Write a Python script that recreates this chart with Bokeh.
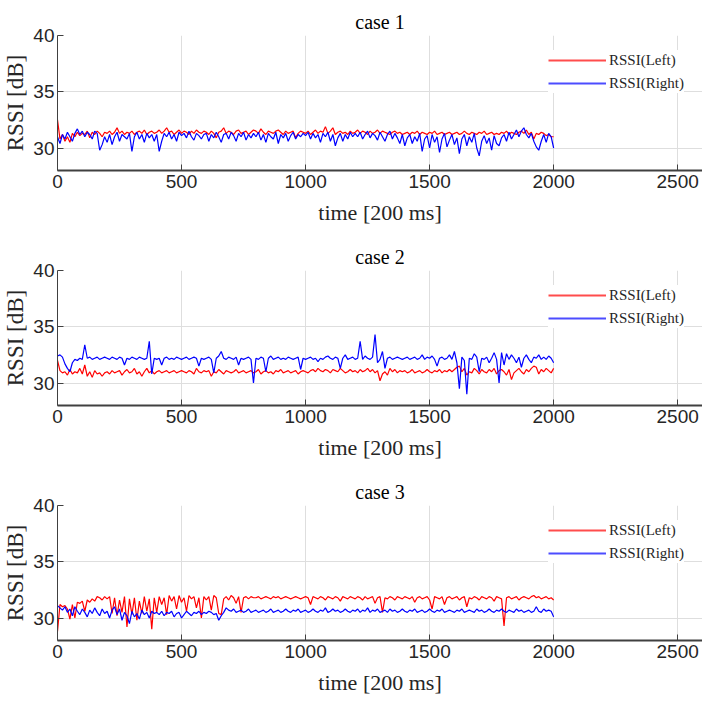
import numpy as np
from bokeh.plotting import figure
from bokeh.layouts import column
from bokeh.models import FixedTicker
from bokeh.embed import file_html
from bokeh.resources import INLINE

# sampled every 10 time steps (t = 0 .. 2000)
STEP = 10

case1_left = [
    32.5, 30.8, 31.2, 30.6, 31.0, 30.5, 31.3, 31.0, 31.4, 31.1, 31.3, 31.2, 31.5, 30.9, 31.4, 31.2, 31.5, 31.3, 31.0, 31.4,
    31.3, 31.5, 31.2, 31.4, 31.8, 31.3, 31.5, 31.2, 31.4, 31.3, 31.5, 31.2, 31.4, 31.5, 31.3, 31.6, 31.2, 31.4, 31.5, 31.3,
    31.4, 31.6, 31.3, 31.5, 31.8, 31.4, 31.5, 31.2, 31.4, 31.6, 31.3, 31.5, 31.4, 31.2, 31.5, 31.3, 31.6, 31.4, 31.3, 31.5,
    31.4, 31.2, 31.5, 31.3, 30.9, 31.4, 31.5, 31.8, 31.3, 31.5, 31.4, 31.2, 31.5, 31.6, 31.3, 31.4, 31.5, 31.2, 31.4, 31.6,
    31.5, 31.3, 31.7, 31.4, 31.2, 31.5, 31.4, 31.3, 31.5, 31.6, 31.4, 31.2, 31.5, 31.3, 31.4, 31.5, 30.9, 31.3, 31.5, 31.4,
    31.3, 31.5, 31.2, 31.4, 31.6, 31.3, 31.5, 31.4, 31.9, 31.3, 31.5, 31.8, 31.2, 31.4, 31.5, 31.3, 31.4, 31.2, 31.5, 31.3,
    31.4, 31.6, 31.3, 31.5, 31.4, 31.2, 31.5, 31.3, 31.4, 31.6, 31.3, 31.5, 31.4, 31.3, 31.2, 31.4, 31.5, 31.3, 31.4, 31.2,
    31.3, 31.4, 31.2, 31.4, 31.3, 31.5, 31.2, 31.4, 31.3, 31.2, 31.4, 31.3, 31.5, 31.2, 31.3, 31.4, 31.2, 31.3, 31.4, 31.2,
    31.3, 31.4, 31.2, 31.3, 31.5, 31.3, 31.2, 31.4, 31.3, 31.2, 31.4, 31.3, 31.5, 31.2, 31.3, 31.4, 31.2, 31.3, 31.2, 31.4,
    31.3, 31.5, 31.2, 31.4, 31.3, 31.2, 31.4, 31.5, 31.3, 31.6, 31.2, 31.4, 30.8, 31.3, 31.2, 31.4, 31.3, 31.1, 31.2, 31.0,
    31.0,
]
case1_right = [
    31.0, 30.4, 31.2, 30.8, 31.4, 31.0, 30.6, 31.3, 31.7, 31.2, 31.5, 31.0, 31.4, 31.2, 30.8, 31.5, 31.3, 29.8, 30.3, 31.0,
    30.5, 31.2, 30.3, 31.0, 31.4, 30.6, 31.2, 31.0, 30.8, 31.3, 29.7, 31.0, 31.4, 30.8, 31.2, 30.5, 31.3, 30.9, 31.2, 30.6,
    31.2, 29.7, 30.6, 31.3, 31.0, 31.4, 30.8, 31.2, 30.6, 31.4, 31.1, 31.3, 30.9, 31.5, 31.0, 30.7, 31.3, 31.1, 30.8, 31.2,
    31.3, 30.6, 31.2, 30.9, 31.4, 31.0, 30.5, 31.2, 31.3, 30.8, 31.4, 31.1, 30.6, 31.3, 31.0, 31.4, 30.7, 31.2, 30.9, 31.3,
    31.0, 31.4, 30.7, 31.2, 30.5, 31.3, 31.0, 30.8, 31.4, 30.4, 31.2, 30.9, 31.3, 30.6, 31.1, 31.4, 30.8, 31.2, 31.0, 31.3,
    31.1, 31.4, 30.8, 31.3, 30.9, 31.2, 30.5, 31.3, 31.0, 31.4, 30.6, 31.2, 30.2, 30.9, 31.3, 30.6, 31.2, 30.8, 31.4, 31.0,
    31.3, 31.0, 31.4, 30.8, 31.2, 31.5, 30.9, 31.3, 31.1, 30.7, 31.4, 31.0, 30.6, 31.2, 31.5, 30.8, 31.3, 30.9, 30.4, 31.2,
    30.2, 30.9, 31.2, 30.4, 31.0, 30.6, 31.3, 29.7, 30.8, 31.1, 30.0, 31.2, 30.5, 31.0, 29.6, 30.8, 31.3, 30.1, 30.7, 31.2,
    30.3, 30.9, 29.5, 30.8, 31.2, 30.2, 31.0, 30.5, 31.3, 30.0, 29.3, 30.6, 31.1, 30.4, 30.9, 29.8, 31.1, 30.4, 30.2, 30.9,
    31.2, 30.6, 31.4, 30.8, 31.2, 31.6, 31.0, 31.5, 31.8, 31.2, 30.9, 31.3, 30.6, 30.1, 29.8, 30.6, 31.2, 30.5, 31.3, 31.0,
    30.0,
]

case2_left = [
    32.0, 31.1, 30.9, 31.0, 30.7, 31.2, 30.8, 31.0, 30.9, 31.3, 30.8, 31.6, 30.6, 31.0, 30.5, 31.1, 30.8, 30.9, 30.6, 30.9,
    31.0, 30.8, 31.1, 30.9, 31.0, 31.1, 30.7, 31.0, 31.2, 30.9, 31.0, 31.3, 30.8, 31.0, 30.6, 31.0, 31.3, 30.9, 31.1, 30.8,
    31.0, 31.1, 30.9, 31.0, 31.1, 30.9, 31.0, 31.1, 30.9, 31.0, 31.1, 31.0, 30.9, 31.1, 31.0, 30.8, 31.3, 31.0, 30.9, 31.1,
    31.0, 31.1, 30.6, 31.0, 30.9, 31.2, 31.0, 30.8, 31.1, 31.0, 30.9, 31.0, 31.2, 30.9, 31.0, 31.1, 30.9, 31.0, 31.1, 30.9,
    31.0, 31.2, 30.8, 31.0, 31.1, 30.9, 31.0, 30.8, 31.1, 31.0, 31.2, 30.9, 31.0, 31.1, 30.9, 31.0, 31.1, 30.8, 31.0, 31.1,
    31.0, 30.9, 31.1, 31.2, 31.0, 31.3, 31.1, 31.0, 31.2, 31.1, 30.9, 31.2, 31.1, 31.0, 31.3, 31.1, 30.9, 31.0, 31.2, 31.0,
    31.1, 30.9, 31.2, 31.0, 31.1, 31.3, 31.0, 31.2, 30.9, 31.1, 30.2, 30.8, 31.0, 30.7, 31.3, 31.0, 31.2, 30.9, 31.1, 31.0,
    31.1, 30.9, 31.0, 31.2, 30.9, 31.0, 31.1, 30.9, 31.0, 31.2, 31.0, 30.9, 31.1, 31.0, 31.2, 30.9, 31.1, 31.0, 31.2, 31.0,
    31.2, 31.4, 31.5, 31.0, 31.3, 30.7, 31.0, 30.9, 31.3, 31.1, 30.8, 31.2, 31.0, 30.9, 31.2, 31.0, 31.3, 30.8, 31.1, 31.2,
    31.0, 30.7, 31.2, 30.3, 30.9, 31.1, 31.3, 31.0, 30.8, 31.2, 31.0, 31.3, 31.5, 31.4, 30.8, 31.2, 31.0, 31.3, 31.1, 30.9,
    31.3,
]
case2_right = [
    32.4, 32.5, 32.3, 31.7, 31.3, 31.0, 31.8, 32.1, 32.0, 32.2, 32.1, 33.4, 32.2, 32.3, 32.1, 32.2, 32.3, 32.1, 32.2, 32.3,
    32.2, 32.1, 32.3, 32.2, 32.1, 32.3, 32.2, 31.6, 32.2, 32.1, 32.3, 32.2, 32.1, 32.3, 32.2, 32.1, 32.2, 33.7, 30.8, 32.2,
    32.1, 32.2, 31.6, 32.2, 32.3, 32.1, 32.2, 32.1, 32.3, 32.2, 32.1, 32.2, 32.3, 32.1, 32.2, 32.3, 32.2, 31.5, 32.2, 32.1,
    32.2, 32.3, 32.1, 30.9, 32.2, 32.4, 32.8, 32.2, 32.1, 32.3, 32.2, 32.1, 32.3, 31.6, 32.2, 32.1, 32.2, 32.3, 32.1, 30.0,
    32.2, 32.1, 32.3, 32.2, 31.0, 32.2, 32.4, 32.1, 32.2, 32.3, 32.1, 32.2, 32.1, 32.3, 32.2, 32.1, 32.2, 32.3, 31.2, 32.2,
    32.1, 32.2, 32.3, 32.1, 32.2, 31.9, 32.2, 32.1, 32.3, 32.4, 32.2, 32.1, 32.3, 32.2, 31.3, 32.2, 32.5, 32.1, 32.2, 32.3,
    32.1, 32.2, 33.7, 32.1, 32.4, 32.2, 32.1, 32.3, 34.3, 31.8, 32.1, 32.8, 31.3, 32.2, 32.3, 32.1, 32.2, 32.3, 32.2, 32.1,
    32.2, 32.3, 32.1, 32.2, 32.3, 32.1, 32.2, 32.5, 32.1, 32.3, 32.2, 32.4, 32.1, 31.5, 32.2, 32.3, 32.1, 32.2, 32.5, 32.1,
    32.8, 31.8, 29.5, 32.3, 32.0, 29.0, 32.2, 32.1, 32.6, 32.3, 31.0, 32.2, 32.1, 32.3, 31.8, 32.2, 32.7, 32.1, 30.0, 32.7,
    31.6, 32.6, 32.1, 32.5, 32.2, 31.8, 32.3, 31.4, 32.2, 32.5, 32.1, 31.8, 32.3, 32.2, 32.5, 32.1, 32.3, 32.1, 32.4, 32.2,
    31.8,
]

case3_left = [
    28.8, 31.2, 31.0, 31.1, 30.8, 29.9, 31.2, 30.0, 31.4, 31.3, 31.5, 30.6, 31.6, 31.4, 31.7, 31.5, 31.9, 31.8, 31.6, 31.9,
    31.7, 31.9, 30.4, 31.8, 30.2, 31.6, 30.5, 31.9, 29.2, 31.7, 30.3, 31.8, 29.8, 31.5, 30.4, 31.9, 30.6, 31.7, 29.0, 31.8,
    30.5, 31.9, 31.2, 31.8, 30.3, 32.0, 31.5, 31.9, 30.8, 32.0, 31.4, 31.8, 30.6, 32.0, 31.7, 31.9, 30.9, 31.8, 30.0, 31.9,
    31.6, 31.9, 30.7, 32.0, 31.8, 30.4, 30.3, 31.7, 31.9, 31.6, 32.0, 31.8, 31.3, 31.9, 30.5, 31.8, 31.9, 31.7, 31.9, 31.8,
    31.8, 31.9, 31.7, 31.8, 31.9, 31.8, 31.7, 31.9, 31.8, 31.9, 31.7, 31.8, 31.9, 31.8, 31.7, 31.8, 31.9, 31.8, 31.7, 31.8,
    31.9, 31.8, 31.2, 31.9, 31.8, 31.7, 31.9, 31.8, 31.6, 31.9, 31.8, 31.7, 31.9, 31.8, 31.5, 31.9, 31.8, 31.7, 31.9, 31.8,
    31.7, 31.9, 31.8, 31.6, 31.9, 31.7, 31.8, 31.9, 31.3, 31.8, 31.9, 30.5, 31.8, 31.7, 31.9, 31.8, 31.6, 31.9, 31.8, 31.7,
    31.9, 31.8, 31.7, 31.9, 31.4, 31.8, 31.9, 31.7, 31.8, 31.9, 31.6, 30.8, 31.9, 31.8, 31.7, 31.9, 31.2, 31.8, 31.9, 31.7,
    31.8, 31.9, 31.6, 31.8, 31.9, 31.0, 31.8, 31.7, 31.9, 31.8, 31.6, 31.9, 31.8, 31.7, 31.9, 31.8, 31.5, 31.9, 31.8, 31.7,
    29.3, 31.8, 31.9, 31.7, 31.8, 31.9, 31.6, 31.8, 31.9, 31.8, 31.7, 31.9, 32.0, 31.8, 31.9, 31.7, 31.8, 31.9, 31.7, 31.8,
    31.6,
]
case3_right = [
    31.1, 30.9, 30.7, 31.0, 30.5, 30.8, 30.2, 31.0, 30.6, 30.3, 30.8, 30.5, 30.1, 30.7, 30.4, 30.9, 30.5, 30.2, 30.8, 30.4,
    30.6, 30.0, 30.7, 31.0, 30.3, 30.8, 29.8, 30.5, 30.2, 29.5, 30.6, 30.1, 30.4, 29.9, 30.7, 30.3, 30.5, 30.0, 30.6, 30.4,
    30.5, 30.3, 30.6, 30.2, 30.5, 30.4, 30.6, 30.1, 30.4, 30.5, 30.0, 30.3, 30.6, 30.4, 30.2, 30.5, 30.4, 30.6, 30.3, 30.5,
    30.4, 30.6, 30.5, 30.3, 30.4, 29.8, 30.2, 30.5, 30.9, 30.7, 30.6, 30.8, 30.5, 30.6, 30.7, 30.5, 30.6, 30.8, 30.5, 30.6,
    30.7, 30.5, 30.6, 30.7, 30.5, 30.6, 30.8, 30.5, 30.6, 30.7, 30.5, 30.6, 30.8, 30.6, 30.5, 30.7, 30.6, 30.8, 30.5, 30.6,
    30.7, 30.5, 30.6, 30.8, 30.6, 30.5, 30.7, 30.6, 30.9, 30.5, 30.6, 30.8, 30.6, 30.7, 30.5, 30.6, 30.8, 30.6, 30.5, 30.7,
    30.6, 30.8, 30.5, 30.7, 30.6, 30.9, 30.5, 30.7, 30.6, 30.8, 30.5, 30.6, 30.7, 30.5, 30.8, 30.6, 30.7, 30.5, 30.6, 30.8,
    30.6, 30.5, 30.7, 30.6, 30.8, 30.5, 30.6, 30.7, 30.5, 30.6, 30.8, 30.6, 30.5, 30.7, 30.6, 30.8, 30.5, 30.6, 30.7, 30.6,
    30.5, 30.7, 30.6, 30.8, 30.5, 30.6, 30.7, 30.6, 30.5, 30.8, 30.6, 30.7, 30.5, 30.6, 30.8, 30.6, 30.5, 30.7, 30.6, 30.8,
    30.6, 30.5, 30.7, 30.6, 30.5, 30.8, 30.6, 30.7, 30.5, 30.6, 30.7, 30.5, 30.6, 31.0, 30.6, 30.5, 30.8, 30.6, 30.7, 30.6,
    30.1,
]

titles = ["case 1", "case 2", "case 3"]
series_labels = ["RSSI(Left)", "RSSI(Right)"]
x_ticks = [0, 500, 1000, 1500, 2000, 2500]
y_ticks = [30, 35, 40]
x_label = "time [200 ms]"
y_label = "RSSI [dB]"

SERIF = "Liberation Serif"
SANS = "Liberation Sans"
RED = "#ff0000"
BLUE = "#0000ff"


def make_panel(title, left, right):
    p = figure(width=702, height=235, x_range=(0, 2600), y_range=(28, 40),
               output_backend="svg", toolbar_location=None,
               min_border_left=55, min_border_right=0,
               min_border_top=35, min_border_bottom=65)
    p.title.text = title
    p.title.align = "center"
    p.title.standoff = 6
    p.title.text_font = SERIF
    p.title.text_font_size = "20px"
    p.title.text_font_style = "normal"
    p.title.text_color = "black"

    xl = np.arange(len(left)) * STEP
    xr = np.arange(len(right)) * STEP
    p.line(xl, left, line_color=RED, line_width=1.2)
    p.line(xr, right, line_color=BLUE, line_width=1.2)
    # legend-only renderers (a single missing point, nothing drawn in the plot)
    p.line([np.nan], [np.nan], line_color=RED, line_width=2, line_alpha=0.7,
           legend_label=series_labels[0])
    p.line([np.nan], [np.nan], line_color=BLUE, line_width=2, line_alpha=0.7,
           legend_label=series_labels[1])

    p.outline_line_color = None
    for ax in (p.xaxis[0], p.yaxis[0]):
        ax.major_label_text_font = SANS
        ax.major_label_text_font_size = "19px"
        ax.major_label_text_color = "#262626"
        ax.axis_label_text_font = SERIF
        ax.axis_label_text_font_style = "normal"
        ax.axis_label_text_color = "#262626"
        ax.major_tick_in = 6
        ax.major_tick_out = 0
        ax.minor_tick_in = 0
        ax.minor_tick_out = 0
        ax.axis_line_color = "#404040"
        ax.major_tick_line_color = "#404040"
    p.xaxis[0].ticker = FixedTicker(ticks=x_ticks)
    p.yaxis[0].ticker = FixedTicker(ticks=y_ticks)
    p.xaxis[0].axis_line_width = 2
    p.xaxis[0].axis_label = x_label
    p.yaxis[0].axis_label = y_label
    p.xaxis[0].axis_label_text_font_size = "22px"
    p.yaxis[0].axis_label_text_font_size = "23px"
    p.xaxis[0].major_label_standoff = 4
    p.xaxis[0].axis_label_standoff = 9
    p.yaxis[0].major_label_standoff = 3
    p.yaxis[0].axis_label_standoff = 2

    p.xgrid.ticker = FixedTicker(ticks=x_ticks)
    p.ygrid.ticker = FixedTicker(ticks=y_ticks)
    p.xgrid.grid_line_color = "#dedede"
    p.ygrid.grid_line_color = "#dedede"

    lg = p.legend[0]
    lg.location = (491, 77)
    lg.border_line_color = None
    lg.background_fill_color = "white"
    lg.background_fill_alpha = 1.0
    lg.label_text_font = SERIF
    lg.label_text_font_size = "15px"
    lg.label_text_color = "#262626"
    lg.glyph_width = 58
    lg.glyph_height = 20
    lg.label_height = 20
    lg.spacing = 3
    lg.padding = 0
    lg.margin = 0
    lg.label_standoff = 3
    return p


panels = [
    make_panel(titles[0], case1_left, case1_right),
    make_panel(titles[1], case2_left, case2_right),
    make_panel(titles[2], case3_left, case3_right),
]
layout = column(*panels, spacing=0)
open("out.html", "w").write(file_html(layout, INLINE))
